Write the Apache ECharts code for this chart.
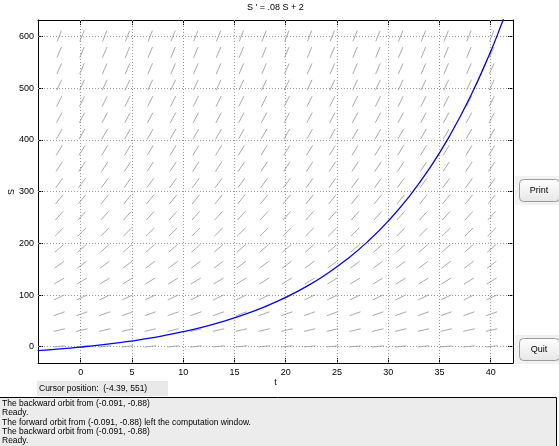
<!DOCTYPE html>
<html lang="en">
<head>
<meta charset="UTF-8">
<title>dfield</title>
<style>
  html, body { margin: 0; padding: 0; background: #fff; }
  #echart { width: 559px; height: 446px; }
</style>
</head>
<body>
<div id="echart"></div>
<script src="https://cdn.jsdelivr.net/npm/echarts@6/dist/echarts.min.js"></script>
<script>
// tick labels
var xTicks = [0, 5, 10, 15, 20, 25, 30, 35, 40];
var yTicks = [0, 100, 200, 300, 400, 500, 600];

// direction field grid (columns in t, rows in S, slope of each row)
var fieldT = [-2.10, 0.12, 2.34, 4.56, 6.78, 9.01, 11.23, 13.45, 15.67, 17.89,
              20.11, 22.33, 24.55, 26.77, 29.00, 31.22, 33.44, 35.66, 37.88, 40.10];
var fieldS = [0.6, 32.2, 63.8, 95.4, 127, 158.6, 190.2, 221.8, 253.4, 285,
              316.6, 348.2, 379.8, 411.4, 443, 474.6, 506.2, 537.8, 569.4, 601];
var fieldSlope = [2.05, 4.58, 7.10, 9.63, 12.16, 14.69, 17.22, 19.74, 22.27, 24.8,
                  27.33, 29.86, 32.38, 34.91, 37.44, 39.97, 42.5, 45.02, 47.55, 50.08];

// the orbit (blue curve)
var orbitT = [-4.2, -2, 0, 2, 4, 6, 8, 10, 12, 14, 16, 18, 20, 22, 24, 26, 28, 30, 32, 34, 36, 38, 40, 41, 41.5];
var orbitS = [-7.6, -4.3, -0.7, 3.5, 8.5, 14.3, 21.1, 29.1, 38.5, 49.5, 62.4, 77.6, 95.4, 116.2, 140.8,
              169.5, 203.3, 242.9, 289.3, 343.9, 407.9, 483.0, 571.1, 620.8, 647.1];

var messages = [
    'The backward orbit from (-0.091, -0.88)',
    'Ready.',
    'The forward orbit from (-0.091, -0.88) left the computation window.',
    'The backward orbit from (-0.091, -0.88)',
    'Ready.'
];

var fieldData = [];
for (var i = 0; i < fieldS.length; i++) {
    for (var j = 0; j < fieldT.length; j++) {
        fieldData.push([fieldT[j], fieldS[i], fieldSlope[i]]);
    }
}
var orbitData = [];
for (var k = 0; k < orbitT.length; k++) {
    orbitData.push([orbitT[k], orbitS[k]]);
}

var font = 'Liberation Sans, Arial, Helvetica, sans-serif';
var gridLine = { color: '#9a9a9a', width: 1, type: [1, 2] };

function btn(label, y) {
    return [
        { type: 'rect', shape: { x: 515, y: y - 3, width: 44, height: 29 }, style: { fill: '#f2f2f2' } },
        {
            type: 'rect', shape: { x: 519.5, y: y + 0.5, width: 40, height: 22, r: 4 },
            style: {
                fill: new echarts.graphic.LinearGradient(0, 0, 0, 1, [
                    { offset: 0, color: '#ffffff' }, { offset: 1, color: '#e6e6e6' }
                ]),
                stroke: '#9c9c9c', lineWidth: 1
            }
        },
        { type: 'text', x: 539, y: y + 11.5, style: { text: label, font: '9px ' + font, fill: '#000', textAlign: 'center', textVerticalAlign: 'middle' } }
    ];
}

var graphics = [
    { type: 'text', x: 275.5, y: 8, style: { text: "S ' = .08 S + 2", font: '9px ' + font, fill: '#000', textAlign: 'center', textVerticalAlign: 'middle' } },
    { type: 'text', x: 275.5, y: 383, style: { text: 't', font: '9px ' + font, fill: '#000', textAlign: 'center', textVerticalAlign: 'middle' } },
    { type: 'text', x: 12, y: 192, rotation: Math.PI / 2, style: { text: 'S', font: '9px ' + font, fill: '#000', textAlign: 'center', textVerticalAlign: 'middle' } },
    { type: 'rect', shape: { x: 37, y: 381, width: 131, height: 15 }, style: { fill: '#e9e9e9' } },
    { type: 'text', x: 39, y: 389, style: { text: 'Cursor position:  (-4.39, 551)', font: '8.5px ' + font, fill: '#000', textVerticalAlign: 'middle' } },
    { type: 'rect', shape: { x: -1, y: 397.5, width: 557.5, height: 50 }, style: { fill: '#ececec', stroke: '#000', lineWidth: 1 } }
];
for (var m = 0; m < messages.length; m++) {
    graphics.push({ type: 'text', x: 2, y: 404 + m * 9.1, style: { text: messages[m], font: '8.5px ' + font, fill: '#000', textVerticalAlign: 'middle' } });
}
graphics = graphics.concat(btn('Print', 179), btn('Quit', 338));

function xAxisDef(pos, labels) {
    return {
        type: 'value', position: pos, min: -4.17, max: 42.18,
        axisLine: { show: true, onZero: false, lineStyle: { color: '#000', width: 1 } },
        axisTick: { show: true, inside: true, length: 5, customValues: xTicks, lineStyle: { color: '#000' } },
        axisLabel: { show: labels, customValues: xTicks, color: '#000', fontSize: 9, fontFamily: font, margin: 5 },
        splitLine: { show: false }
    };
}
function yAxisDef(pos, labels) {
    return {
        type: 'value', position: pos, min: -31.5, max: 632,
        axisLine: { show: true, onZero: false, lineStyle: { color: '#000', width: 1 } },
        axisTick: { show: true, inside: true, length: 5, customValues: yTicks, lineStyle: { color: '#000' } },
        axisLabel: { show: labels, customValues: yTicks, color: '#000', fontSize: 9, fontFamily: font, margin: 4 },
        splitLine: { show: false }
    };
}

var option = {
    backgroundColor: '#fff',
    animation: false,
    grid: { left: 38, top: 20, width: 475, height: 343 },
    xAxis: [xAxisDef('bottom', true), xAxisDef('top', false)],
    yAxis: [yAxisDef('left', true), yAxisDef('right', false)],
    graphic: graphics,
    series: [
        {
            name: 'grid',
            type: 'line',
            data: [],
            silent: true,
            markLine: {
                silent: true,
                symbol: 'none',
                label: { show: false },
                lineStyle: gridLine,
                data: xTicks.map(function (v) { return { xAxis: v }; })
                    .concat(yTicks.map(function (v) { return { yAxis: v }; }))
            }
        },
        {
            name: 'field',
            type: 'custom',
            silent: true,
            data: fieldData,
            encode: { x: 0, y: 1 },
            renderItem: function (params, api) {
                var t = api.value(0), s = api.value(1), slope = api.value(2);
                var p = api.coord([t, s]);
                var q = api.coord([t + 1, s + slope]);
                var dx = q[0] - p[0], dy = q[1] - p[1];
                var len = Math.sqrt(dx * dx + dy * dy);
                var h = 5.8;
                return {
                    type: 'line',
                    shape: { x1: p[0] - dx / len * h, y1: p[1] - dy / len * h, x2: p[0] + dx / len * h, y2: p[1] + dy / len * h },
                    style: { stroke: '#aaaaaa', lineWidth: 1 }
                };
            }
        },
        {
            name: 'orbit',
            type: 'line',
            data: orbitData,
            smooth: true,
            showSymbol: false,
            silent: true,
            clip: true,
            lineStyle: { color: '#0000ff', width: 1.3 },
            z: 5
        }
    ]
};

var myChart = echarts.init(document.getElementById('echart'));
myChart.setOption(option);
</script>
</body>
</html>
